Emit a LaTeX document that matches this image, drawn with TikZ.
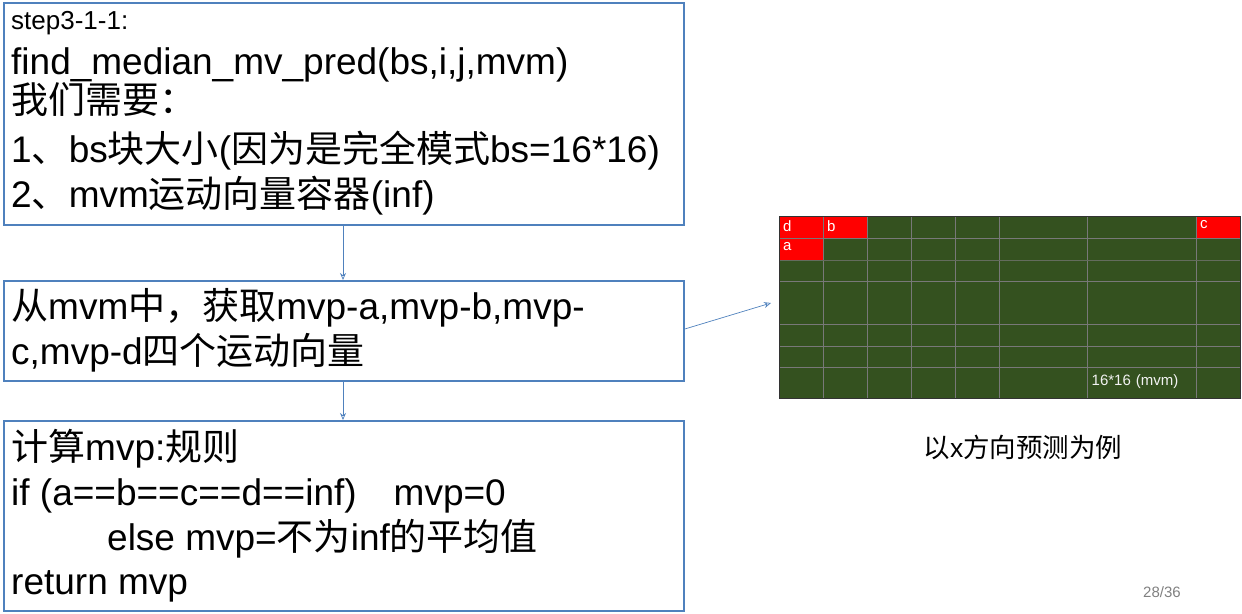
\documentclass[tikz,border=0pt]{standalone}
\usepackage{fontspec}
\setmainfont{Liberation Sans}
\newfontfamily\cjk{Noto Sans CJK SC}
\newcommand\zh[1]{{\cjk #1}}
\definecolor{boxblue}{RGB}{79,129,189}
\definecolor{gridgreen}{RGB}{52,81,31}
\definecolor{gridline}{RGB}{120,120,120}
\tikzset{
  box/.style={draw=boxblue,line width=1.8pt,anchor=north west,inner sep=0pt},
  txt/.style={anchor=base west,inner sep=0pt,font=\fontsize{37}{37}\selectfont},
  arr/.style={draw=boxblue,-{Stealth[length=7pt,width=6pt,open]},line width=0.7pt},
  lab/.style={anchor=north west,inner sep=0pt,text=white,font=\fontsize{15}{15}\selectfont},
}
\usetikzlibrary{arrows.meta}
\begin{document}
\begin{tikzpicture}[x=1pt,y=-1pt]
\useasboundingbox (0,0) rectangle (1242,613);
\node[box,minimum width=680pt,minimum height=222pt] (b1) at (3,2) {};
\node[box,minimum width=680pt,minimum height=100pt] (b2) at (3,280) {};
\node[box,minimum width=680pt,minimum height=190pt] (b3) at (3,420) {};
% box1 text
\node[txt,font=\fontsize{26}{26}\selectfont] (t11) at (11,29) {step3-1-1:};
\node[txt] (t12) at (11,74) {find\_median\_mv\_pred(bs,i,j,mvm)};
\node[txt] (t13) at (11,113) {\zh{我们需要：}};
\node[txt] (t14) at (11,162) {1\zh{、}bs\zh{块大小}(\zh{因为是完全模式}bs=16*16)};
\node[txt] (t15) at (11,207) {2\zh{、}mvm\zh{运动向量容器}(inf)};
% box2 text
\node[txt] (t21) at (11,319) {\zh{从}mvm\zh{中，获取}mvp-a,mvp-b,mvp-};
\node[txt] (t22) at (11,364) {c,mvp-d\zh{四个运动向量}};
% box3 text
\node[txt] (t31) at (11,460) {\zh{计算}mvp:\zh{规则}};
\node[txt] (t32) at (11,505) {if (a==b==c==d==inf)\quad mvp=0};
\node[txt] (t33) at (107,550) {else mvp=\zh{不为}inf\zh{的平均值}};
\node[txt] (t34) at (11,594) {return mvp};
% grid
\fill[gridgreen] (779,216) rectangle (1240,398);
\fill[red] (779,216) rectangle (823,238);
\fill[red] (823,216) rectangle (867,238);
\fill[red] (1196,216) rectangle (1240,238);
\fill[red] (779,238) rectangle (823,260);
\foreach \x in {823,867,911,955,999,1087,1196}
  \draw[gridline,line width=0.8pt] (\x,216) -- (\x,398);
\foreach \y in {238,281,324,346,367}
  \draw[gridline,line width=0.8pt] (779,\y) -- (1240,\y);
\draw[gridline!70!gridgreen,line width=0.6pt] (779,260) -- (1240,260);
\draw[white!20!black,line width=1pt] (779,216) rectangle (1240,398);
\node[lab] (ld) at (783,220) {d};
\node[lab] (lb) at (827,220) {b};
\node[lab] (lc) at (1200,220) {c};
\node[lab] (la) at (783,242) {a};
\node[lab,anchor=center,text=white!90!gray] (lm) at (1135,382) {16*16\,\,(mvm)};
\coordinate (g) at (771,303);
\node[inner sep=0pt,font=\fontsize{26.5}{26.5}\selectfont] (cap) at (1023,447) {\zh{以}x\zh{方向预测为例}};
\node[inner sep=0pt,text=gray,font=\fontsize{15}{15}\selectfont] (pg) at (1162,592) {28/36};
% arrows
\draw[arr] (b1.south -| 343,0) -- (b2.north -| 343,0);
\draw[arr] (b2.south -| 343,0) -- (b3.north -| 343,0);
\draw[arr] (b2.east |- 0,329) -- (g);
\end{tikzpicture}
\end{document}
